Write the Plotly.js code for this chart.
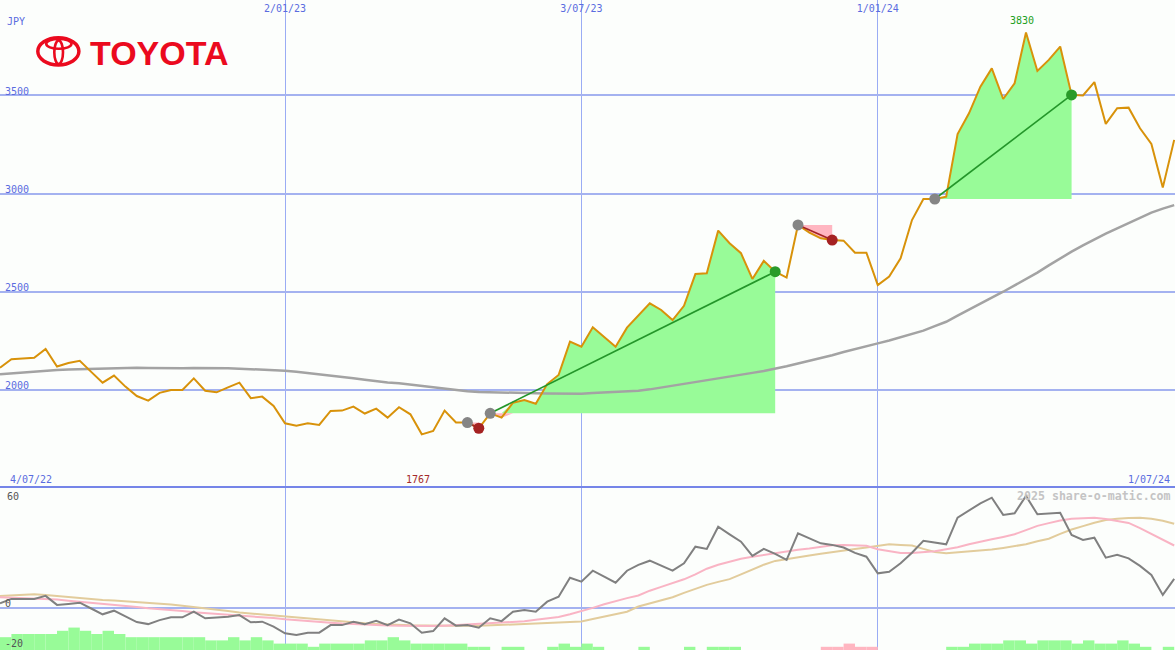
<!DOCTYPE html>
<html>
<head>
<meta charset="utf-8">
<script src="https://cdn.plot.ly/plotly-3.0.1.min.js"></script>
<style>html,body{margin:0;padding:0;background:#fcfefc;}#chart{width:1175px;height:650px;}</style>
</head>
<body>
<div id="chart"></div>
<script>
// ---- weekly dates (categories) ----
const dates = [
'2022-07-11','2022-07-18','2022-07-25','2022-08-01','2022-08-08','2022-08-15','2022-08-22','2022-08-29','2022-09-05','2022-09-12',
'2022-09-19','2022-09-26','2022-10-03','2022-10-10','2022-10-17','2022-10-24','2022-10-31','2022-11-07','2022-11-14','2022-11-21',
'2022-11-28','2022-12-05','2022-12-12','2022-12-19','2022-12-26','2023-01-02','2023-01-09','2023-01-16','2023-01-23','2023-01-30',
'2023-02-06','2023-02-13','2023-02-20','2023-02-27','2023-03-06','2023-03-13','2023-03-20','2023-03-27','2023-04-03','2023-04-10',
'2023-04-17','2023-04-24','2023-05-01','2023-05-08','2023-05-15','2023-05-22','2023-05-29','2023-06-05','2023-06-12','2023-06-19',
'2023-06-26','2023-07-03','2023-07-10','2023-07-17','2023-07-24','2023-07-31','2023-08-07','2023-08-14','2023-08-21','2023-08-28',
'2023-09-04','2023-09-11','2023-09-18','2023-09-25','2023-10-02','2023-10-09','2023-10-16','2023-10-23','2023-10-30','2023-11-06',
'2023-11-13','2023-11-20','2023-11-27','2023-12-04','2023-12-11','2023-12-18','2023-12-25','2024-01-01','2024-01-08','2024-01-15',
'2024-01-22','2024-01-29','2024-02-05','2024-02-12','2024-02-19','2024-02-26','2024-03-04','2024-03-11','2024-03-18','2024-03-25',
'2024-04-01','2024-04-08','2024-04-15','2024-04-22','2024-04-29','2024-05-06','2024-05-13','2024-05-20','2024-05-27','2024-06-03',
'2024-06-10','2024-06-17','2024-06-24','2024-07-01'];

// ---- weekly close, JPY ----
const price = [
2113,2156,2160,2164,2209,2119,2137,2148,2092,2037,
2073,2017,1969,1946,1985,2000,2000,2059,1996,1988,
2013,2037,1958,1966,1919,1830,1818,1830,1822,1893,
1895,1915,1880,1905,1859,1912,1876,1774,1791,1895,
1834,1834,1805,1881,1859,1935,1949,1930,2030,2076,
2246,2220,2319,2271,2220,2317,2378,2441,2407,2356,
2428,2590,2594,2811,2747,2696,2565,2657,2602,2572,
2840,2801,2772,2763,2760,2699,2699,2534,2577,2670,
2865,2972,2972,2984,3303,3408,3544,3637,3481,3561,
3820,3624,3680,3748,3502,3499,3567,3354,3434,3437,
3332,3252,3030,3273];

// ---- long moving average ----
const movingAvg = [
2080,2085,2090,2095,2099,2102,2104,2106,2108,2110,
2112,2113,2113,2112,2111,2110,2111,2112,2112,2111,
2110,2108,2106,2104,2101,2098,2093,2087,2080,2074,
2067,2060,2052,2044,2038,2034,2027,2020,2012,2005,
1999,1994,1990,1988,1986,1985,1984,1983,1982,1981,
1980,1981,1984,1987,1990,1993,1996,2003,2012,2021,
2031,2041,2050,2059,2068,2078,2087,2097,2108,2121,
2135,2148,2162,2177,2193,2209,2223,2237,2252,2268,
2282,2302,2325,2347,2378,2410,2442,2470,2500,2531,
2563,2597,2634,2670,2704,2736,2767,2796,2823,2849,
2876,2903,2923,2941];

// ---- lower panel oscillator and its two signal lines ----
const oscillator = [
2.2,4.4,4.4,4.4,5.9,1.4,1.9,2.5,-0.4,-3.3,
-1.5,-4.4,-7.2,-8.2,-6.2,-4.8,-4.8,-2.0,-5.3,-4.9,
-4.5,-3.7,-7.3,-7.0,-9.5,-12.8,-13.7,-12.5,-12.5,-8.7,
-8.7,-7.0,-8.3,-6.5,-8.7,-5.9,-7.8,-12.5,-11.7,-5.3,
-9.0,-8.7,-10.0,-5.3,-6.7,-2.0,-1.2,-2.0,3.0,5.5,
15.0,13.0,18.5,15.5,12.5,18.5,21.4,23.5,20.9,18.5,
22.2,30.5,29.4,40.5,36.7,33.0,25.9,29.4,26.9,23.9,
37.2,34.7,32.2,31.4,30.1,27.4,25.5,17.2,18.0,22.2,
27.5,33.5,32.7,31.7,45.0,48.4,52.2,55.0,46.4,47.2,
55.9,46.7,47.1,47.5,36.4,33.9,35.0,25.0,26.4,24.7,
20.9,16.4,6.4,14.4];

const signalFast = [
5.2,5.0,4.8,4.6,4.4,4.1,3.5,3.0,2.6,2.1,
1.5,1.0,0.4,-0.3,-0.7,-1.2,-1.7,-2.3,-2.7,-3.0,
-3.4,-3.7,-4.1,-4.6,-5.2,-5.8,-6.3,-6.8,-7.2,-7.5,
-7.9,-8.2,-8.5,-8.7,-8.9,-9.0,-9.1,-9.2,-9.2,-9.0,
-8.7,-8.5,-8.3,-8.0,-7.6,-7.3,-6.8,-6.0,-5.3,-4.6,
-3.3,-1.8,-0.1,1.7,3.4,4.8,6.1,8.5,10.4,12.3,
14.2,16.7,19.5,21.5,23.0,24.5,25.5,26.4,27.2,28.0,
29.0,29.6,30.4,31.2,31.3,31.2,31.0,29.2,28.2,27.4,
27.4,27.7,28.2,29.2,30.2,31.7,33.1,34.2,35.4,36.7,
38.8,40.9,42.3,43.6,44.5,44.8,45.0,44.3,43.5,42.4,
39.8,36.9,34.0,31.1];

const signalSlow = [
5.9,6.2,6.5,6.7,6.3,5.8,5.3,4.7,4.3,3.9,
3.6,3.2,2.9,2.7,2.2,1.6,1.0,0.4,-0.5,-1.1,
-1.7,-2.4,-2.9,-3.4,-3.9,-4.4,-5.0,-5.4,-5.9,-6.5,
-7.0,-7.4,-7.8,-8.1,-8.4,-8.7,-8.8,-8.9,-9.0,-9.0,
-9.0,-9.0,-9.0,-8.9,-8.7,-8.4,-8.2,-7.9,-7.6,-7.3,
-7.3,-6.9,-5.7,-4.5,-3.2,-2.0,0.6,2.1,3.6,5.2,
7.4,9.6,11.4,12.9,14.3,16.7,19.1,21.5,23.4,24.4,
25.2,26.1,27.0,27.9,28.7,29.4,30.1,31.0,31.7,31.4,
31.1,29.4,27.9,27.2,27.6,28.0,28.4,29.1,29.9,30.7,
31.7,33.2,34.5,36.9,39.1,40.8,42.5,43.8,44.5,44.8,
45.0,44.5,43.5,42.0];

// ---- strength bars (levels) ----
const barUp = [
4,5,5,5,5,6,7,6,5,6,
5,4,4,4,4,4,4,4,3,3,
4,3,4,3,2,2,2,1,2,2,
2,2,3,3,4,3,2,2,2,2,
2,1,1,0,1,1,0,0,1,2,
1,2,1,0,0,0,1,0,0,0,
1,0,1,1,1,0,0,0,0,0,
0,0,0,0,0,0,0,0,0,0,
0,0,0,1,1,2,2,2,3,3,
2,3,3,3,2,3,2,2,3,2,
1,0,1,0];
const barDown = [
0,0,0,0,0,0,0,0,0,0, 0,0,0,0,0,0,0,0,0,0,
0,0,0,0,0,0,0,0,0,0, 0,0,0,0,0,0,0,0,0,0,
0,0,0,0,0,0,0,0,0,0, 0,0,0,0,0,0,0,0,0,0,
0,0,0,0,0,0,0,0,0,0, 0,0,1,1,2,1,1,0,0,0,
0,0,0,0,0,0,0,0,0,0, 0,0,0,0,0,0,0,0,0,0,
0,0,0,0];

// ---- trades (index of entry / exit week) ----
const tradeEntry = [41, 43, 70, 82];
const tradeExit  = [42, 68, 73, 94];

// ---- labels ----
const priceTicks = [2000, 2500, 3000, 3500];
const dateTicks = ['2023-01-02', '2023-07-03', '2024-01-01'];
const dateTickText = ['2/01/23', '3/07/23', '1/01/24'];
const oscTicks = [0, -20];
const oscTickText = ['0', '-20'];
const lowLabel = '1767', lowIdx = 37;
const highLabel = '3830', highIdx = 90;
const firstDateLabel = '4/07/22', lastDateLabel = '1/07/24';

// ---- styling ----
const W = 1175, H = 650;
const px = x => x / W;
const py = y => 1 - y / H;
const SPLIT = 163 / H;
const GREEN_FILL = '#98fb98', PINK_FILL = '#ffb6c1';
const GRID = '#a4b2f0';
const VGRID = '#9aacf4';
const LABEL_BLUE = '#5a6ce0';
const MONO = 'DejaVu Sans Mono, monospace';
const WEEK_MS = 7 * 24 * 3600 * 1000;

const traces = [];

// bars in the lower panel
traces.push({type: 'bar', x: dates, y: barUp, xaxis: 'x', yaxis: 'y3',
  marker: {color: GREEN_FILL, line: {width: 0}}, offset: 0, width: WEEK_MS, hoverinfo: 'skip'});
traces.push({type: 'bar', x: dates, y: barDown, xaxis: 'x', yaxis: 'y3',
  marker: {color: PINK_FILL, line: {width: 0}}, offset: 0, width: WEEK_MS, hoverinfo: 'skip'});

// trade fills (between price and entry level)
tradeEntry.forEach((e, k) => {
  const x = tradeExit[k];
  const xs = dates.slice(e, x + 1);
  const ps = price.slice(e, x + 1);
  const base = price[e];
  const baseLine = ps.map(() => base);
  if (ps.some(p => p > base)) {
    traces.push({type: 'scatter', mode: 'lines', x: xs, y: baseLine, line: {width: 0, color: GREEN_FILL}, hoverinfo: 'skip'});
    traces.push({type: 'scatter', mode: 'lines', x: xs, y: ps.map(p => Math.max(p, base)), fill: 'tonexty',
      fillcolor: GREEN_FILL, line: {width: 0, color: GREEN_FILL}, hoverinfo: 'skip'});
  }
  if (ps.some(p => p < base)) {
    traces.push({type: 'scatter', mode: 'lines', x: xs, y: baseLine, line: {width: 0, color: PINK_FILL}, hoverinfo: 'skip'});
    traces.push({type: 'scatter', mode: 'lines', x: xs, y: ps.map(p => Math.min(p, base)), fill: 'tonexty',
      fillcolor: PINK_FILL, line: {width: 0, color: PINK_FILL}, hoverinfo: 'skip'});
  }
});

// moving average and price
traces.push({type: 'scatter', mode: 'lines', x: dates, y: movingAvg, line: {color: '#a3a3a3', width: 2.5}, hoverinfo: 'skip'});
traces.push({type: 'scatter', mode: 'lines', x: dates, y: price, line: {color: '#d8920a', width: 2}, hoverinfo: 'skip'});

// trade lines and dots
tradeEntry.forEach((e, k) => {
  const x = tradeExit[k];
  const win = price[x] > price[e];
  traces.push({type: 'scatter', mode: 'lines', x: [dates[e], dates[x]], y: [price[e], price[x]],
    line: {color: win ? '#24962a' : '#a52424', width: 1.6}, hoverinfo: 'skip'});
});
traces.push({type: 'scatter', mode: 'markers', x: tradeEntry.map(i => dates[i]), y: tradeEntry.map(i => price[i]),
  marker: {color: '#858585', size: 11}, hoverinfo: 'skip'});
traces.push({type: 'scatter', mode: 'markers', x: tradeExit.map(i => dates[i]), y: tradeExit.map(i => price[i]),
  marker: {color: tradeExit.map((i, k) => price[i] > price[tradeEntry[k]] ? '#2a9a2a' : '#a52222'), size: 11}, hoverinfo: 'skip'});

// oscillator panel lines
traces.push({type: 'scatter', mode: 'lines', x: dates, y: signalSlow, xaxis: 'x', yaxis: 'y2', line: {color: '#e2cc9c', width: 2}, hoverinfo: 'skip'});
traces.push({type: 'scatter', mode: 'lines', x: dates, y: signalFast, xaxis: 'x', yaxis: 'y2', line: {color: '#f9b4c4', width: 2}, hoverinfo: 'skip'});
traces.push({type: 'scatter', mode: 'lines', x: dates, y: oscillator, xaxis: 'x', yaxis: 'y2', line: {color: '#808080', width: 2}, hoverinfo: 'skip'});

const LOGO_RED = '#eb0a1e';
const layout = {
  width: W, height: H,
  margin: {l: 0, r: 0, t: 0, b: 0, pad: 0},
  paper_bgcolor: '#fcfefc', plot_bgcolor: '#fcfefc',
  showlegend: false, barmode: 'overlay', hovermode: false,
  xaxis: {type: 'date', range: ['2022-07-11', '2024-07-01 12:00'], side: 'top', anchor: 'y',
    tickmode: 'array', tickvals: dateTicks, ticktext: dateTickText, ticklabelposition: 'inside', ticks: '',
    ticklabelstandoff: 2,
    showgrid: true, gridcolor: VGRID, gridwidth: 1, zeroline: false, showline: false,
    tickfont: {family: MONO, size: 10, color: LABEL_BLUE}, fixedrange: true},
  yaxis: {domain: [SPLIT, 1], range: [1506, 3985], anchor: 'x',
    tickmode: 'array', tickvals: priceTicks, ticktext: priceTicks.map(String), ticklabelposition: 'inside top', ticks: '',
    ticklabelstandoff: 2, ticklabelshift: 3,
    showgrid: true, gridcolor: GRID, gridwidth: 2, zeroline: false, showline: false,
    tickfont: {family: MONO, size: 10, color: LABEL_BLUE}, fixedrange: true},
  yaxis2: {domain: [0, SPLIT], range: [-21.15, 60.35], anchor: 'x',
    tickmode: 'array', tickvals: oscTicks, ticktext: oscTickText, ticklabelposition: 'inside top', ticks: '',
    ticklabelstandoff: 2, ticklabelshift: 3,
    showgrid: false, zeroline: true, zerolinecolor: GRID, zerolinewidth: 2, showline: false,
    tickfont: {family: MONO, size: 10, color: '#555555'}, fixedrange: true},
  yaxis3: {domain: [0, SPLIT], range: [0, 50.9], overlaying: 'y2', anchor: 'x', visible: false, fixedrange: true},
  shapes: [
    {type: 'line', xref: 'paper', yref: 'paper', x0: 0, x1: 1, y0: SPLIT, y1: SPLIT, line: {color: '#7585e8', width: 2}, layer: 'above'},
    {type: 'circle', xref: 'paper', yref: 'paper', x0: px(37.8), x1: px(78.9), y0: py(37.8), y1: py(64.9), line: {color: LOGO_RED, width: 3.5}},
    {type: 'circle', xref: 'paper', yref: 'paper', x0: px(46.2), x1: px(71.5), y0: py(38.9), y1: py(48.8), line: {color: LOGO_RED, width: 2.6}},
    {type: 'circle', xref: 'paper', yref: 'paper', x0: px(54.3), x1: px(63.0), y0: py(40.5), y1: py(64.0), line: {color: LOGO_RED, width: 2.6}}
  ],
  annotations: [
    {text: '<b>TOYOTA</b>', xref: 'paper', yref: 'paper', x: px(88), y: py(52.5), xanchor: 'left', yanchor: 'middle', showarrow: false,
      font: {family: 'Liberation Sans, Arial, sans-serif', size: 34, color: LOGO_RED}},
    {text: 'JPY', xref: 'paper', yref: 'paper', x: px(5), y: py(21.5), xanchor: 'left', yanchor: 'middle', showarrow: false,
      font: {family: MONO, size: 10, color: LABEL_BLUE}},
    {text: firstDateLabel, xref: 'paper', yref: 'paper', x: px(8), y: py(479), xanchor: 'left', yanchor: 'middle', showarrow: false,
      font: {family: MONO, size: 10, color: LABEL_BLUE}},
    {text: lastDateLabel, xref: 'paper', yref: 'paper', x: px(1172), y: py(479), xanchor: 'right', yanchor: 'middle', showarrow: false,
      font: {family: MONO, size: 10, color: LABEL_BLUE}},
    {text: lowLabel, xref: 'x', yref: 'paper', x: dates[lowIdx], xshift: -4, y: py(479), xanchor: 'center', yanchor: 'middle', showarrow: false,
      font: {family: MONO, size: 10, color: '#a52a2a'}},
    {text: highLabel, xref: 'x', yref: 'paper', x: dates[highIdx], xshift: -4, y: py(21), xanchor: 'center', yanchor: 'middle', showarrow: false,
      font: {family: MONO, size: 10, color: '#22a022'}},
    {text: '60', xref: 'paper', yref: 'paper', x: px(5), y: py(496), xanchor: 'left', yanchor: 'middle', showarrow: false,
      font: {family: MONO, size: 10, color: '#555555'}},
    {text: '<b>2025 share-o-matic.com</b>', xref: 'paper', yref: 'paper', x: px(1173), y: py(496), xanchor: 'right', yanchor: 'middle', showarrow: false,
      font: {family: MONO, size: 11.6, color: '#c4c4c4'}}
  ]
};

Plotly.newPlot('chart', traces, layout, {displayModeBar: false, staticPlot: true});
</script>
</body>
</html>
